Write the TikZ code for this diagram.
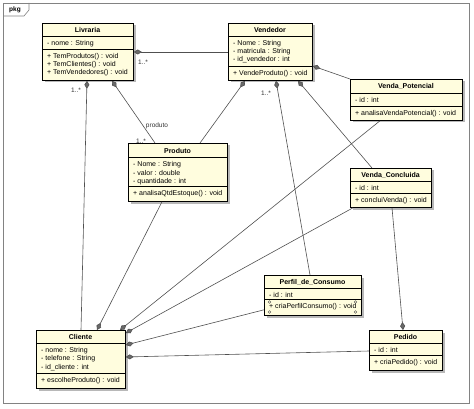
\documentclass[tikz,border=0pt]{standalone}
\usepackage{fontspec}
\setmainfont{Liberation Sans}
\usetikzlibrary{arrows.meta,calc}
\definecolor{clsfill}{RGB}{255,253,222}
\definecolor{conn}{RGB}{80,80,80}
\definecolor{dia}{RGB}{105,105,105}
\definecolor{frame}{RGB}{130,130,130}
\tikzset{
  clsbox/.style={draw=black, line width=0.8pt, fill=clsfill, inner sep=0pt, rectangle},
  clsshadow/.style={fill=black!28},
  divline/.style={draw=black, line width=0.6pt},
  ttl/.style={font=\fontsize{7}{8}\selectfont\bfseries, inner sep=0pt, text height=5pt, text depth=0pt},
  txt/.style={font=\fontsize{7}{8}\selectfont, inner sep=0pt, anchor=base west},
  lbl/.style={font=\fontsize{6.5}{8}\selectfont, inner sep=0pt, text=black!80},
  assoc/.style={draw=conn, line width=0.6pt, {Diamond[length=8pt,width=5pt,fill=dia]}-},
  marker/.style={draw=black!70, line width=0.4pt}
}
% name, x1, y1, x2, y2, div1, div2, title
\newcommand{\umlclass}[8]{%
  \fill[clsshadow] (#2+2.5,#3+2.5) rectangle (#4+2.5,#5+2.5);
  \node[clsbox, minimum width={#4-#2}, minimum height={#5-#3}, anchor=north west] (#1) at (#2,#3) {};
  \draw[divline] (#2,#6) -- (#4,#6);
  \draw[divline] (#2,#7) -- (#4,#7);
  \node[ttl] (#1-title) at ({(#2+#4)/2},{(#3+#6)/2+0.3}) {#8};
  \coordinate (#1-a) at (#2+5,#6+9.2);
  \coordinate (#1-m) at (#2+5,#7+9.2);
}
% class, part (a/m), index, text
\newcommand{\umlrow}[4]{%
  \node[txt] (#1-#2#3) at ($(#1-#2)+(0,{8.3*(#3-1)})$) {#4};
}
\begin{document}
\begin{tikzpicture}[x=1pt,y=-1pt]
\useasboundingbox (0,0) rectangle (474,409);
% package frame
\draw[frame, line width=0.8pt] (3,3) rectangle (469,403);
\draw[frame, line width=0.6pt] (3,16) -- (24,16) -- (29,10) -- (29,3);
\node[font=\fontsize{6.5}{8}\selectfont\bfseries, inner sep=0pt] (pkg) at (15,9.5) {pkg};

% classes
\umlclass{livraria}{42}{23}{133}{80}{36}{49}{Livraria}
\umlrow{livraria}{a}{1}{- nome : String}
\umlrow{livraria}{m}{1}{+ TemProdutos() : void}
\umlrow{livraria}{m}{2}{+ TemClientes() : void}
\umlrow{livraria}{m}{3}{+ TemVendedores() : void}

\umlclass{vendedor}{228}{23}{312}{80}{36}{66.7}{Vendedor}
\umlrow{vendedor}{a}{1}{- Nome : String}
\umlrow{vendedor}{a}{2}{- matricula : String}
\umlrow{vendedor}{a}{3}{- id\_vendedor : int}
\umlrow{vendedor}{m}{1}{+ VendeProduto() : void}

\umlclass{vpot}{350}{79}{462}{120}{93.3}{106}{Venda\_Potencial}
\umlrow{vpot}{a}{1}{- id : int}
\umlrow{vpot}{m}{1}{+ analisaVendaPotencial() : void}

\umlclass{vconc}{350}{168}{431}{207}{181.7}{193.3}{Venda\_Concluida}
\umlrow{vconc}{a}{1}{- id : int}
\umlrow{vconc}{m}{1}{+ concluiVenda() : void}

\umlclass{produto}{128}{143}{227}{201}{157.7}{186.7}{Produto}
\umlrow{produto}{a}{1}{- Nome : String}
\umlrow{produto}{a}{2}{- valor : double}
\umlrow{produto}{a}{3}{- quantidade : int}
\umlrow{produto}{m}{1}{+ analisaQtdEstoque() : void}

\umlclass{cliente}{36}{330}{125}{388}{343.3}{373.3}{Cliente}
\umlrow{cliente}{a}{1}{- nome : String}
\umlrow{cliente}{a}{2}{- telefone : String}
\umlrow{cliente}{a}{3}{- id\_cliente : int}
\umlrow{cliente}{m}{1}{+ escolheProduto() : void}

\umlclass{perfil}{264}{275}{361}{315}{288.3}{299.3}{Perfil\_de\_Consumo}
\umlrow{perfil}{a}{1}{- id : int}
\umlrow{perfil}{m}{1}{+ criaPerfilConsumo() : void}

\umlclass{pedido}{369}{330}{442}{370}{343.3}{355.7}{Pedido}
\umlrow{pedido}{a}{1}{- id : int}
\umlrow{pedido}{m}{1}{+ criaPedido() : void}

% small port markers on Perfil_de_Consumo
\draw[marker] (269.5,302) circle (1.3) (269.5,312) circle (1.3);
\draw[marker] (355.5,302) circle (1.3) (355.5,312) circle (1.3);

% associations (diamond at whole end)
\draw[assoc] ($(livraria.north east)+(0,29)$) -- ($(vendedor.north west)+(0,29)$);
\draw[assoc] ($(livraria.south west)+(45,0)$) -- ($(cliente.north west)+(45,0)$);
\draw[assoc] ($(livraria.south west)+(70,0)$) -- ($(produto.north west)+(27,0)$);
\draw[assoc] ($(vendedor.south west)+(17,0)$) -- ($(produto.north west)+(72,0)$);
\draw[assoc] ($(cliente.north west)+(61,0)$) -- ($(produto.south west)+(34,0)$);
\draw[assoc] ($(cliente.north west)+(84,0)$) -- ($(vpot.south west)+(30,0)$);
\draw[assoc] ($(cliente.north east)+(0,3)$) -- ($(vconc.south west)+(3,0)$);
\draw[assoc] ($(cliente.north east)+(0,15)$) -- ($(perfil.south west)+(0,-6)$);
\draw[assoc] ($(cliente.north east)+(0,27)$) -- ($(pedido.north west)+(0,21)$);
\draw[assoc] ($(vendedor.north east)+(0,43)$) -- (vpot.north west);
\draw[assoc] ($(vendedor.south west)+(48,0)$) -- ($(perfil.north west)+(46,0)$);
\draw[assoc] ($(vendedor.south west)+(70,0)$) -- ($(vconc.north west)+(22,0)$);
\draw[assoc] ($(pedido.north west)+(34,0)$) -- ($(vconc.south west)+(42,0)$);

% multiplicities / role labels
\node[lbl] (m1) at (143,62) {1..*};
\node[lbl] (m2) at (76,90.5) {1..*};
\node[lbl] (m3) at (141,141.5) {1..*};
\node[lbl] (m4) at (266,93) {1..*};
\node[lbl] (r1) at (157,126) {produto};
\end{tikzpicture}
\end{document}
